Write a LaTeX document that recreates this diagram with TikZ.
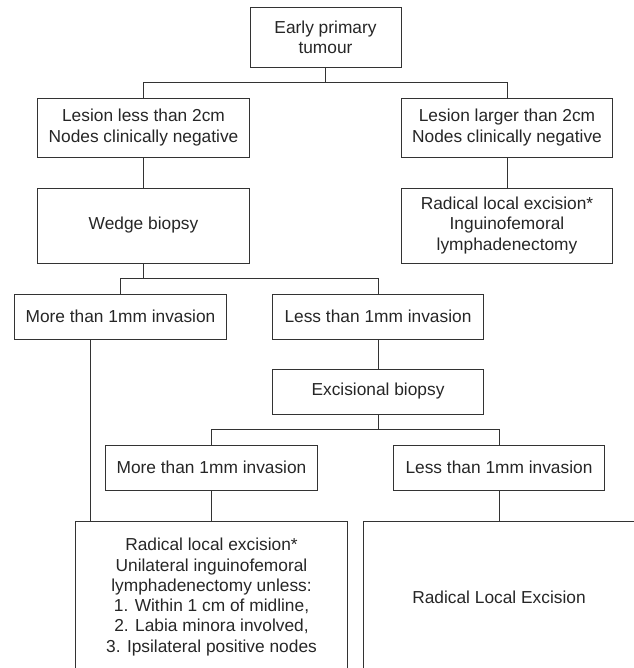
\documentclass[tikz,border=0pt]{standalone}
\usepackage{fontspec}
\setmainfont{Liberation Sans}
\tikzset{
        box/.style = {draw = black!80, line width = 0.7pt, text = black!85, align = center, inner sep = 0pt,
                font = \fontsize{13}{15.2}\selectfont},
        wide/.style = {box, minimum width = 158.5pt},
        link/.style = {draw = black!80, line width = 0.7pt}
}
\begin{document}
\begin{tikzpicture}[x = 0.75pt, y = -0.75pt]
        \useasboundingbox (0, 0) rectangle (634, 668);
        \clip (0, 0) rectangle (634, 668);
        % first level
        \node [box, minimum width = 113.25pt, minimum height = 45pt] (top) at (325.5, 37) {Early primary\\tumour};
        \node [wide, minimum height = 44.25pt] (lesl) at (143.5, 127.5) {Lesion less than 2cm\\Nodes clinically negative};
        \node [wide, minimum height = 44.25pt] (lesr) at (507, 127.5) {Lesion larger than 2cm\\Nodes clinically negative};
        \node [wide, minimum height = 56.25pt] (wedge) at (143.5, 225.5) {Wedge biopsy};
        \node [wide, minimum height = 56.25pt] (radical) at (507, 225.5) {Radical local excision*\\Inguinofemoral\\lymphadenectomy};
        % invasion after wedge biopsy
        \node [wide, minimum height = 33.75pt] (morea) at (120.5, 316.5) {More than 1mm invasion};
        \node [wide, minimum height = 33.75pt] (lessa) at (378, 316.5) {Less than 1mm invasion};
        \node [wide, minimum height = 33.75pt] (excis) at (378, 391.5) {Excisional biopsy};
        % invasion after excisional biopsy
        \node [wide, minimum height = 33.75pt] (moreb) at (211.5, 467.5) {More than 1mm invasion};
        \node [wide, minimum height = 33.75pt] (lessb) at (499, 467.5) {Less than 1mm invasion};
        \node [box, minimum width = 204pt, minimum height = 114pt] (resa) at (211.5, 597) {Radical local excision*\\Unilateral inguinofemoral\\lymphadenectomy unless:\\1. Within 1 cm of midline,\\2. Labia minora involved,\\3. Ipsilateral positive nodes};
        \node [box, minimum width = 204pt, minimum height = 114pt] (resb) at (499, 597) {Radical Local Excision};
        % connectors
        \draw [link] (top.south) -- ++(0, 15) -| (lesl.north);
        \draw [link] (top.south) -- ++(0, 15) -| (lesr.north);
        \draw [link] (lesl) -- (wedge);
        \draw [link] (lesr) -- (radical);
        \draw [link] (wedge.south) -- ++(0, 15) -| (morea.north);
        \draw [link] (wedge.south) -- ++(0, 15) -| (lessa.north);
        \draw [link] (lessa) -- (excis);
        \draw [link] (excis.south) -- ++(0, 15) -| (moreb.north);
        \draw [link] (excis.south) -- ++(0, 15) -| (lessb.north);
        \draw [link] (moreb) -- (resa);
        \draw [link] (lessb) -- (resb);
        \draw [link] ([xshift = -22.9pt]morea.south) -- ([xshift = -22.9pt]morea.south |- resa.north);
\end{tikzpicture}
\end{document}
